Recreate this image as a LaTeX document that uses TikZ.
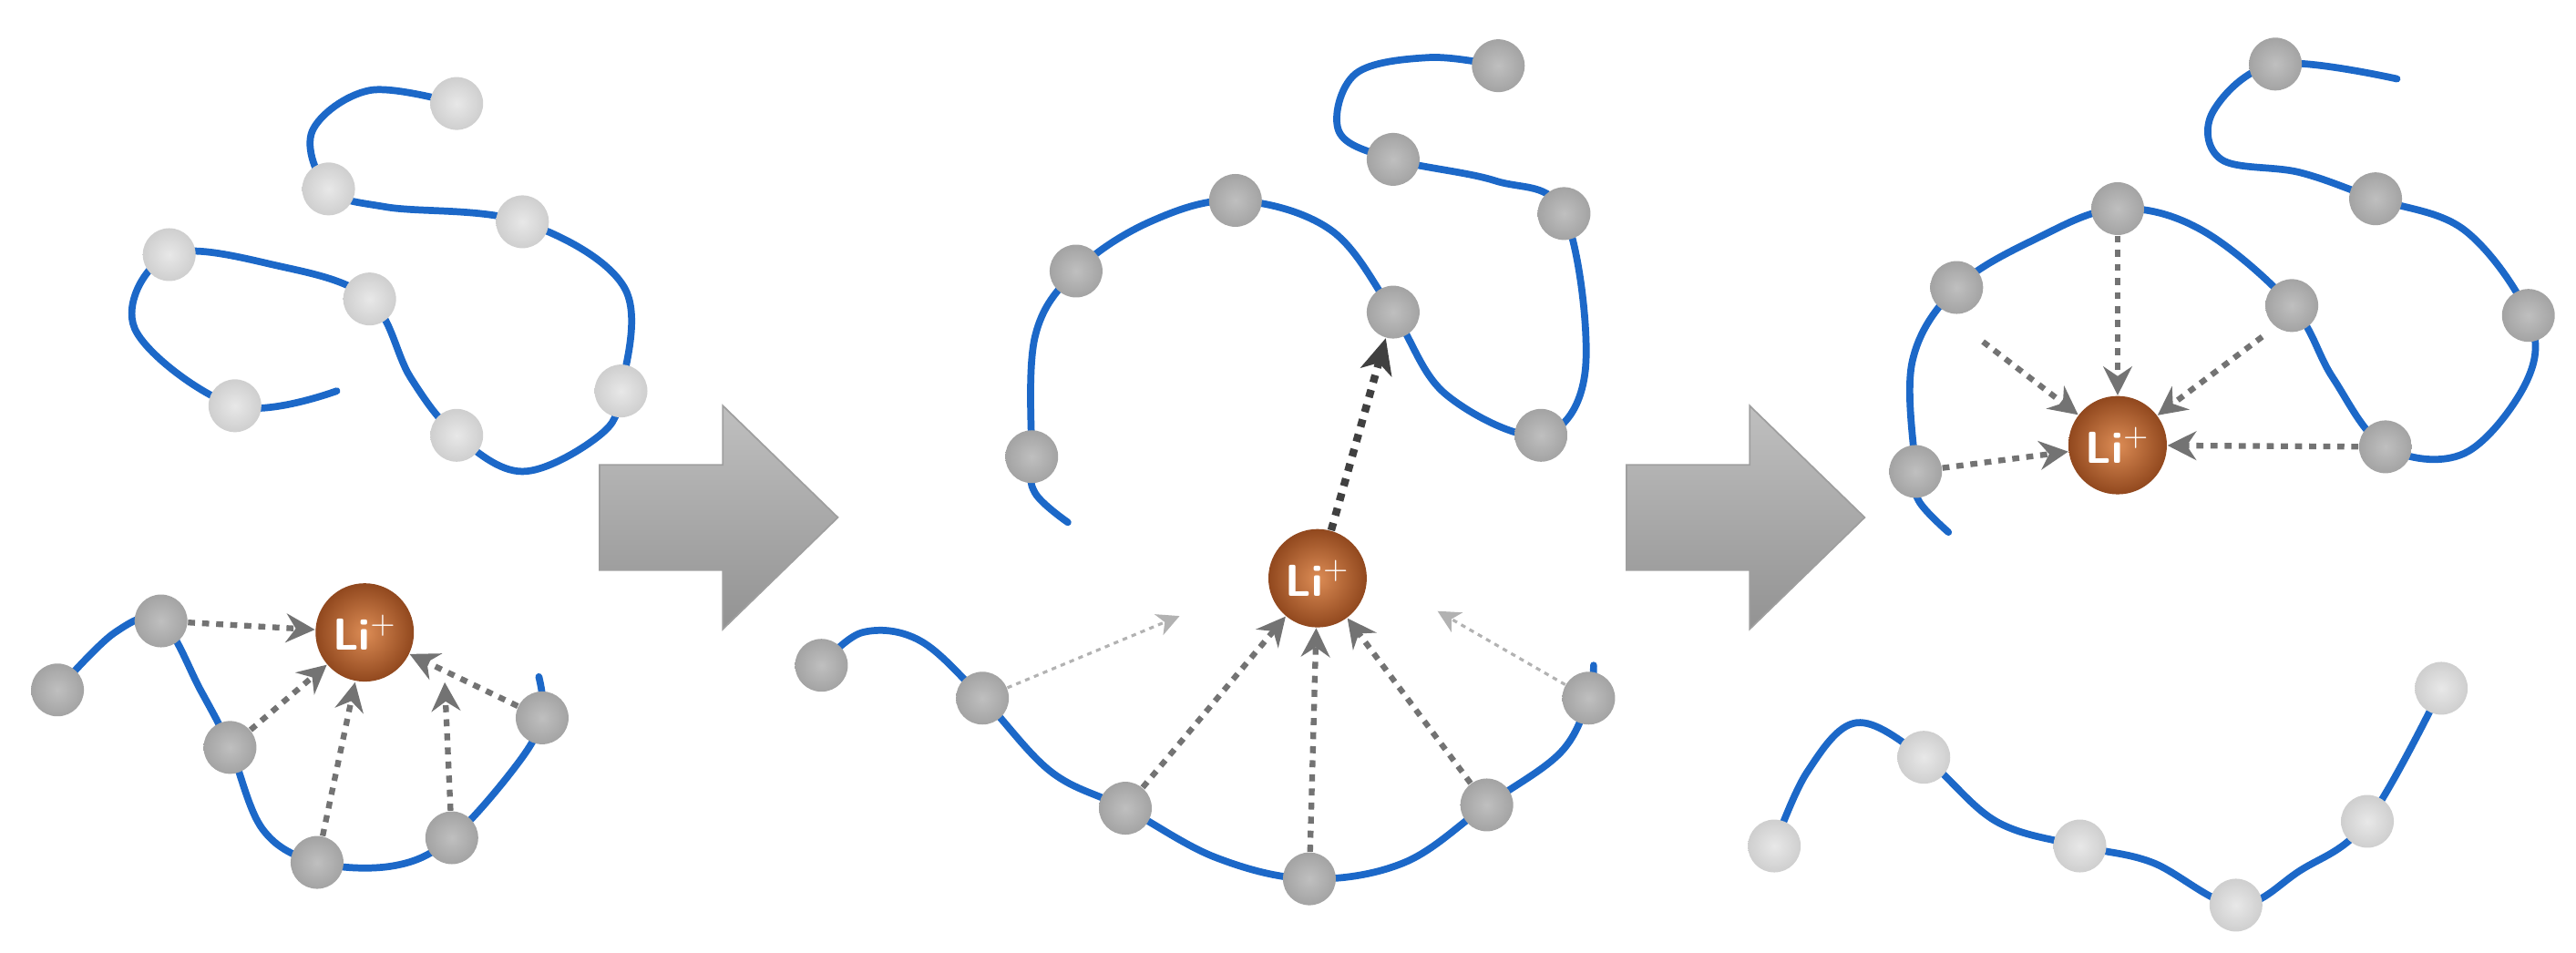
\documentclass[tikz,border=0pt]{standalone}
\usetikzlibrary{arrows.meta}
\begin{document}
\begin{tikzpicture}[x=0.01803cm,y=-0.01803cm,
  strand/.style={draw={rgb,255:red,28;green,104;blue,200},line width=2.2pt,line cap=round},
  dk/.style={circle,minimum size=0.58cm,inner sep=0pt,inner color=gray!50,outer color=gray!72},
  lt/.style={circle,minimum size=0.58cm,inner sep=0pt,inner color=gray!18,outer color=gray!38},
  li/.style={circle,minimum size=1.08cm,inner sep=0pt,inner color={rgb,255:red,220;green,140;blue,85},outer color={rgb,255:red,145;green,72;blue,30},text=white,font=\sffamily\bfseries\fontsize{14}{14}\selectfont},
  coord/.style={-{Stealth[length=9pt,width=9pt,inset=3pt]},draw=gray!90!black,line width=1.8pt,dash pattern=on 2.2pt off 2.2pt},
  faint/.style={-{Stealth[length=7pt,width=7pt,inset=2pt]},draw=gray!60,line width=0.9pt,dash pattern=on 1.5pt off 1.5pt},
  strong/.style={-{Stealth[length=11pt,width=10pt,inset=3pt]},draw=black!75,line width=2.4pt,dash pattern=on 2.4pt off 2.4pt},
  bigarrow/.style={draw=gray!75,top color=gray!50,bottom color=gray!85,line width=0.5pt}]
\useasboundingbox (0,0) rectangle (1568,580);
% ---------------- big arrows
\path[bigarrow] (365,283) -- (440,283) -- (440,247) -- (510,315) -- (440,383) -- (440,347) -- (365,347) -- cycle;
\path[bigarrow] (990,283) -- (1065,283) -- (1065,247) -- (1135,315) -- (1065,383) -- (1065,347) -- (990,347) -- cycle;
% ---------------- panel 1 top (light)
\draw[strand] plot[smooth,tension=0.6] coordinates {(205,238) (143,247) (82,200) (103,155) (170,162) (225,182) (250,230) (278,265) (318,287) (365,265) (378,238) (380,175) (318,135) (235,126) (200,115) (190,80) (225,55) (278,63)};
\foreach \n/\p in {p1/{(143,247)},p2/{(103,155)},p3/{(225,182)},p4/{(278,265)},p5/{(378,238)},p6/{(318,135)},p7/{(200,115)},p8/{(278,63)}}
  \node[lt] (\n) at \p {};
% ---------------- panel 1 bottom (dark)
\draw[strand] plot[smooth,tension=0.6] coordinates {(35,420) (70,385) (98,378) (122,420) (140,455) (160,505) (193,525) (240,527) (275,510) (315,465) (330,437) (328,412)};
\foreach \n/\p in {q1/{(35,420)},q2/{(98,378)},q3/{(140,455)},q4/{(193,525)},q5/{(275,510)},q6/{(330,437)}}
  \node[dk] (\n) at \p {};
\node[li] (L1) at (222,385) {Li$^{\mathbf{+}}$};
\draw[coord] (q2) -- (L1);
\draw[coord] (q3) -- (L1);
\draw[coord] (q4) -- ([xshift=-3]L1.south);
\draw[coord] (q5) -- ([xshift=25]L1.south);
\draw[coord] (q6) -- (L1);
% ---------------- panel 2 top (dark)
\draw[strand] plot[smooth,tension=0.6] coordinates {(650,318) (630,300) (628,278) (630,205) (655,165) (700,135) (752,122) (810,140) (848,190) (880,240) (938,265) (965,225) (952,130) (910,110) (848,97) (815,80) (825,45) (870,35) (912,40)};
\foreach \n/\p in {r1/{(628,278)},r2/{(655,165)},r3/{(752,122)},r4/{(848,190)},r5/{(938,265)},r6/{(952,130)},r7/{(848,97)},r8/{(912,40)}}
  \node[dk] (\n) at \p {};
% ---------------- panel 2 bottom (dark)
\draw[strand] plot[smooth,tension=0.6] coordinates {(500,405) (525,385) (560,390) (598,425) (640,470) (685,492) (740,522) (797,535) (855,525) (905,490) (950,458) (967,425) (970,405)};
\foreach \n/\p in {s1/{(500,405)},s2/{(598,425)},s3/{(685,492)},s4/{(797,535)},s5/{(905,490)},s6/{(967,425)}}
  \node[dk] (\n) at \p {};
\node[li] (L2) at (802,352) {Li$^{\mathbf{+}}$};
\draw[strong] (L2) -- (r4);
\coordinate (f1) at (718,375);
\coordinate (f2) at (875,372);
\draw[faint] (s2) -- (f1);
\draw[faint] (s6) -- (f2);
\draw[coord] (s3) -- (L2);
\draw[coord] (s4) -- (L2);
\draw[coord] (s5) -- (L2);
% ---------------- panel 3 top (dark)
\draw[strand] plot[smooth,tension=0.6] coordinates {(1186,324) (1168,305) (1166,287) (1164,220) (1191,175) (1240,145) (1289,127) (1340,140) (1395,186) (1420,230) (1452,272) (1500,276) (1538,232) (1539,192) (1500,140) (1446,121) (1400,105) (1352,97) (1347,68) (1385,39) (1459,48)};
\foreach \n/\p in {t1/{(1166,287)},t2/{(1191,175)},t3/{(1289,127)},t4/{(1395,186)},t5/{(1452,272)},t6/{(1539,192)},t7/{(1446,121)},t8/{(1385,39)}}
  \node[dk] (\n) at \p {};
\node[li] (L3) at (1289,271) {Li$^{\mathbf{+}}$};
\draw[coord] (t3) -- (L3);
\coordinate (c1) at (1207,208);
\coordinate (c2) at (1377,205);
\draw[coord] (c1) -- (L3);
\draw[coord] (c2) -- (L3);
\draw[coord] (t1) -- (L3);
\draw[coord] (t5) -- (L3);
% ---------------- panel 3 bottom (light)
\draw[strand] plot[smooth,tension=0.6] coordinates {(1080,515) (1100,470) (1130,440) (1171,461) (1215,500) (1266,515) (1310,525) (1361,551) (1400,530) (1441,500) (1486,419)};
\foreach \n/\p in {u1/{(1080,515)},u2/{(1171,461)},u3/{(1266,515)},u4/{(1361,551)},u5/{(1441,500)},u6/{(1486,419)}}
  \node[lt] (\n) at \p {};
\end{tikzpicture}
\end{document}
